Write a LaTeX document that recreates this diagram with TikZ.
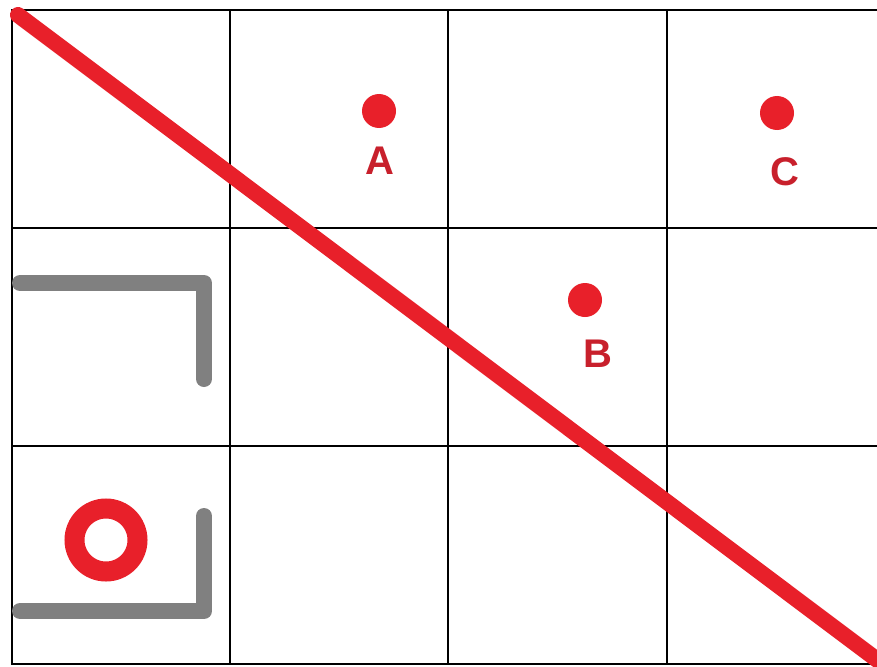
\documentclass[tikz,border=0pt]{standalone}
\usepackage{fontspec}
\setmainfont{Liberation Sans}
\definecolor{lred}{HTML}{E8202A}
\definecolor{dred}{HTML}{C8202C}
\definecolor{lgray}{HTML}{808080}
\begin{document}
\begin{tikzpicture}[x=1pt,y=-1pt,
  gridline/.style={black,line width=2pt},
  dot/.style={circle,fill=lred,inner sep=0pt,minimum size=34pt},
  lbl/.style={text=dred,font=\fontsize{40}{40}\selectfont\bfseries,inner sep=0pt},
  bracket/.style={lgray,line width=16pt,line cap=round,line join=round}]
\useasboundingbox[fill=white] (0,0) rectangle (877,666);
% grid
\draw[gridline] (877,10) -- (12,10) -- (12,664) -- (877,664);
\foreach \x in {230,448,667} \draw[gridline] (\x,10) -- (\x,664);
\foreach \y in {228,446} \draw[gridline] (12,\y) -- (877,\y);
% gray brackets
\draw[bracket] (20,283) -- (204,283) -- (204,379);
\draw[bracket] (204,516) -- (204,611) -- (20,611);
% red ring
\node[draw=lred,line width=20pt,circle,minimum size=63pt,inner sep=0pt] (ring) at (106,540) {};
% dots and labels
\node[dot] (A) at (379,111) {};
\node[lbl] (la) at (380,161) {A};
\node[dot] (C) at (777,113) {};
\node[lbl] (lc) at (785,172) {C};
\node[dot] (B) at (585,300) {};
\node[lbl] (lb) at (598,354) {B};
% diagonal
\coordinate (s) at (18,15);
\coordinate (e) at (892,671);
\begin{scope}
\clip (0,0) rectangle (877,666);
\draw[lred,line width=16pt,line cap=round] (s) -- (e);
\end{scope}
\end{tikzpicture}
\end{document}
